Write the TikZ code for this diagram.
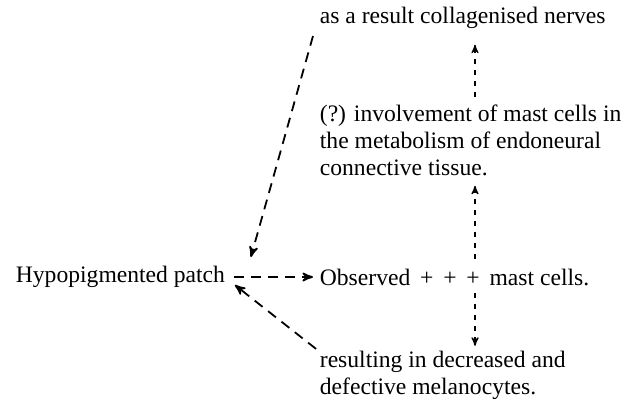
\documentclass[tikz,border=0pt]{standalone}
\usepackage{fontspec}
\setmainfont{Liberation Serif}
\usetikzlibrary{arrows}

\begin{document}
\begin{tikzpicture}[x=0.5pt,y=0.5pt,yscale=-1,xscale=1,
  txt/.style={inner sep=0.75pt,font=\fontsize{11.8}{13.5}\selectfont},
  longdash/.style={line width=0.9pt,dash pattern={on 5pt off 3.5pt},-stealth'},
  shortdash/.style={line width=0.6pt,dash pattern={on 2.5pt off 3pt},-stealth'}]
\path (0,0) rectangle (630,400); %keep the 630x400 frame

% Text Node
\node [anchor=west,txt] (top) at (318,18) {as a result collagenised nerves};
% Text Node
\node [anchor=north west,txt,align=left] (inv) at (318,103) {(?) involvement of mast cells in\\the metabolism of endoneural\\connective tissue.};
% Text Node
\node [anchor=west,txt] (patch) at (14,277) {Hypopigmented patch};
% Text Node
\node [anchor=west,txt] (obs) at (318,277) {Observed\, + \,+ \,+ \,mast cells.};
% Text Node
\node [anchor=west,txt,align=left] (res) at (318,375) {resulting in decreased and\\defective melanocytes.};

\coordinate (vline) at (475,0);

%Straight Lines
\draw [longdash] ([xshift=-2.5pt,yshift=9pt]top.west) -- ([xshift=12pt,yshift=-10pt]patch.east);
%Straight Lines
\draw [longdash] ([xshift=3.5pt]patch.east) -- ([xshift=-2.5pt]obs.west);
%Straight Lines
\draw [longdash] ([xshift=-1pt]res.north west) -- ([xshift=4pt,yshift=4pt]patch.east);
%Straight Lines
\draw [shortdash] ([yshift=-4pt]obs.north -| vline) -- ([yshift=4pt]inv.south -| vline);
%Straight Lines
\draw [shortdash] ([yshift=3pt]obs.south -| vline) -- ([yshift=-1.5pt]res.north -| vline);
%Straight Lines
\draw [shortdash] ([yshift=-3pt]inv.north -| vline) -- ([yshift=7pt]top.south -| vline);

\end{tikzpicture}
\end{document}
